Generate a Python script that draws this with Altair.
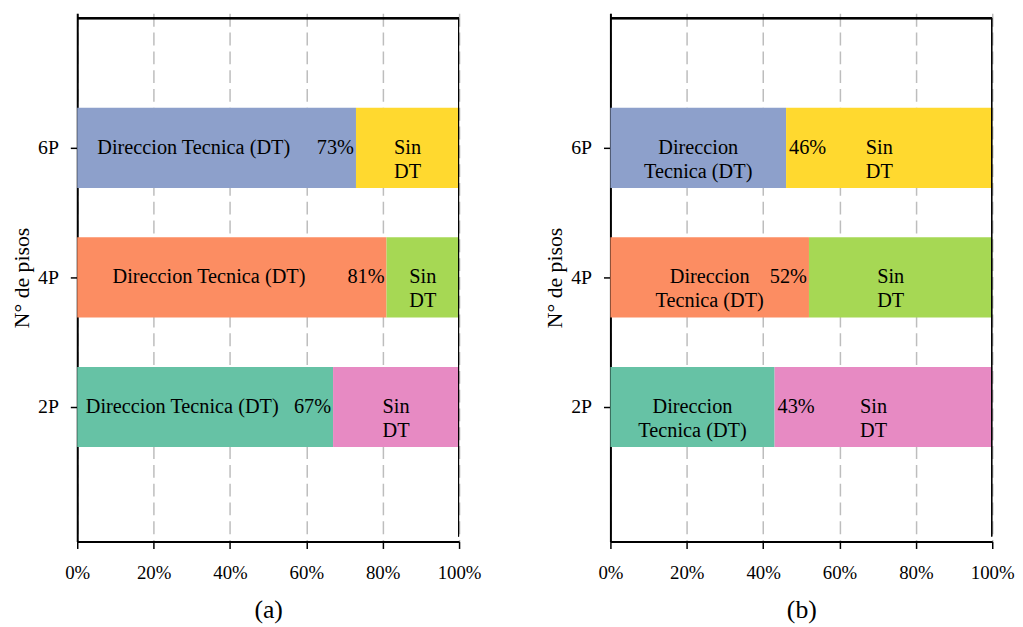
import altair as alt
import pandas as pd

# ---- data ----
pisos = [2, 4, 6]
piso_labels = ["2P", "4P", "6P"]
dt_a = [67, 81, 73]
dt_b = [43, 52, 46]
label_dt_a = "Direccion Tecnica (DT)"
label_dt_b = "Direccion\nTecnica (DT)"
label_sin = "Sin\nDT"
pct_side_a = ["in", "in", "in"]
pct_side_b = ["out", "in", "out"]
dt_colors = ["#66c2a5", "#fc8d62", "#8da0cb"]
sin_colors = ["#e78ac3", "#a6d854", "#ffd92f"]
captions = ["(a)", "(b)"]

FONT = "Liberation Serif, Times New Roman, serif"
TFS = 20.5
XMAX, YMAX = 100, 8

keys, cols = [], []
for p, c1, c2 in zip(piso_labels, dt_colors, sin_colors):
    keys += [p + " DT", p + " Sin"]
    cols += [c1, c2]


def panel(dt, dt_label, sides, caption, dt_shift, sin_dx):
    bars = []
    labels = []
    for p, pl, v, s in zip(pisos, piso_labels, dt, sides):
        bars.append({"piso": p, "start": 0, "end": v, "key": pl + " DT"})
        bars.append({"piso": p, "start": v, "end": XMAX, "key": pl + " Sin"})
        labels.append({"piso": p, "dt": v, "dtlab": dt_label, "sin": label_sin,
                       "pct": f"{v}%", "side": s})
    bdf = pd.DataFrame(bars)
    ldf = pd.DataFrame(labels)

    x_axis = alt.Axis(values=[0, 20, 40, 60, 80, 100], labelExpr="datum.value + '%'",
                      labelFlush=False,
                      grid=True, gridDash=[13, 6], gridColor="#bdbdbd", gridWidth=1.5,
                      tickSize=7, tickColor="black", tickWidth=1.5,
                      domainColor="black", domainWidth=2,
                      labelFont=FONT, labelFontSize=19, labelColor="black", labelPadding=15,
                      title=caption, titleFont=FONT, titleFontSize=26, titleFontWeight="normal",
                      titleColor="black", titlePadding=15)
    y_axis = alt.Axis(values=pisos, labelExpr="datum.value + 'P'", grid=False,
                      tickSize=7, tickColor="black", tickWidth=1.5,
                      domainColor="black", domainWidth=2,
                      labelFont=FONT, labelFontSize=20, labelColor="black", labelPadding=12,
                      title="N° de pisos", titleFont=FONT, titleFontSize=22,
                      titleFontWeight="normal", titleColor="black", titlePadding=4)

    base_bar = alt.Chart(bdf).mark_bar(size=81, orient="horizontal").encode(
        x=alt.X("start:Q", scale=alt.Scale(domain=[0, XMAX], nice=False), axis=x_axis),
        x2="end:Q",
        y=alt.Y("piso:Q", scale=alt.Scale(domain=[0, YMAX], nice=False), axis=y_axis),
        color=alt.Color("key:N", scale=alt.Scale(domain=keys, range=cols), legend=None),
    )
    tbase = alt.Chart(ldf)
    dt_text = tbase.transform_calculate(xpos=f"(datum.dt - {dt_shift}) / 2").mark_text(
        font=FONT, fontSize=TFS, color="black", lineBreak="\n", lineHeight=24, align="center",
        baseline="middle").encode(x="xpos:Q", y="piso:Q", text="dtlab:N")
    sin_text = tbase.transform_calculate(xpos="(datum.dt + 100) / 2").mark_text(
        font=FONT, fontSize=TFS, color="black", lineBreak="\n", lineHeight=24, align="center",
        baseline="middle", dx=sin_dx).encode(x="xpos:Q", y="piso:Q", text="sin:N")
    pct_in = tbase.transform_filter("datum.side == 'in'").mark_text(
        font=FONT, fontSize=TFS, color="black", align="right", baseline="middle", dx=-2
    ).encode(x="dt:Q", y="piso:Q", text="pct:N")
    pct_out = tbase.transform_filter("datum.side == 'out'").mark_text(
        font=FONT, fontSize=TFS, color="black", align="left", baseline="middle", dx=3
    ).encode(x="dt:Q", y="piso:Q", text="pct:N")

    # frame (top and right edges of the plot box)
    top_rule = alt.Chart(ldf).mark_rule(color="black", strokeWidth=2, clip=True).encode(
        x=alt.datum(0), x2=alt.datum(XMAX), y=alt.datum(YMAX))
    right_rule = alt.Chart(ldf).mark_rule(color="black", strokeWidth=2, clip=True).encode(
        x=alt.datum(XMAX), y=alt.datum(0), y2=alt.datum(YMAX))

    return alt.layer(base_bar, dt_text, sin_text, pct_in, pct_out, top_rule, right_rule
                     ).properties(width=386, height=534)


pa = panel(dt_a, label_dt_a, pct_side_a, captions[0], 12, 0)
pb = panel(dt_b, label_dt_b, pct_side_b, captions[1], 0, -10)

chart = alt.hconcat(pa, pb, spacing=62).properties(
    padding={"left": 2, "top": 2, "right": 0, "bottom": 0},
    background="white"
).configure_view(stroke=None)

chart.save("out.html", embed_options={"renderer": "svg", "actions": False})
